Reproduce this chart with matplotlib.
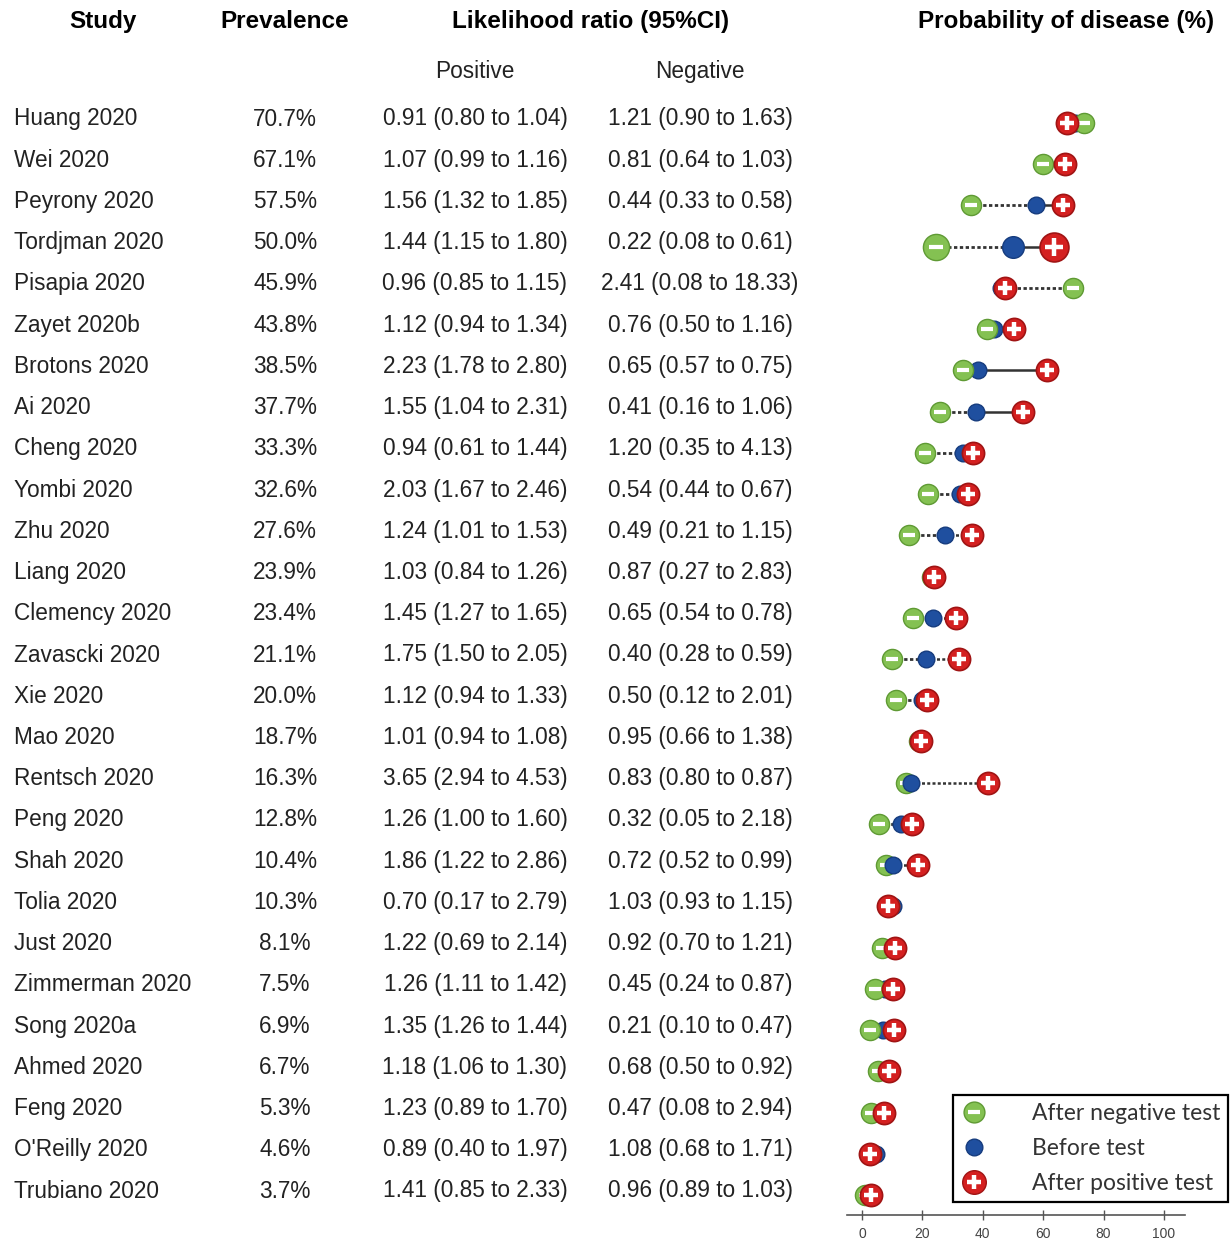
import matplotlib
matplotlib.use("Agg")
from matplotlib import pyplot as plt
from matplotlib.lines import Line2D
from matplotlib.legend_handler import HandlerTuple

plt.rcParams['font.family'] = ['Liberation Sans', 'DejaVu Sans']

studies = ["Huang 2020", "Wei 2020", "Peyrony 2020", "Tordjman 2020", "Pisapia 2020",
           "Zayet 2020b", "Brotons 2020", "Ai 2020", "Cheng 2020", "Yombi 2020",
           "Zhu 2020", "Liang 2020", "Clemency 2020", "Zavascki 2020", "Xie 2020",
           "Mao 2020", "Rentsch 2020", "Peng 2020", "Shah 2020", "Tolia 2020",
           "Just 2020", "Zimmerman 2020", "Song 2020a", "Ahmed 2020", "Feng 2020",
           "O'Reilly 2020", "Trubiano 2020"]

prevalence = [70.7, 67.1, 57.5, 50.0, 45.9, 43.8, 38.5, 37.7, 33.3, 32.6, 27.6, 23.9,
              23.4, 21.1, 20.0, 18.7, 16.3, 12.8, 10.4, 10.3, 8.1, 7.5, 6.9, 6.7, 5.3,
              4.6, 3.7]

lr_pos = ["0.91 (0.80 to 1.04)", "1.07 (0.99 to 1.16)", "1.56 (1.32 to 1.85)",
          "1.44 (1.15 to 1.80)", "0.96 (0.85 to 1.15)", "1.12 (0.94 to 1.34)",
          "2.23 (1.78 to 2.80)", "1.55 (1.04 to 2.31)", "0.94 (0.61 to 1.44)",
          "2.03 (1.67 to 2.46)", "1.24 (1.01 to 1.53)", "1.03 (0.84 to 1.26)",
          "1.45 (1.27 to 1.65)", "1.75 (1.50 to 2.05)", "1.12 (0.94 to 1.33)",
          "1.01 (0.94 to 1.08)", "3.65 (2.94 to 4.53)", "1.26 (1.00 to 1.60)",
          "1.86 (1.22 to 2.86)", "0.70 (0.17 to 2.79)", "1.22 (0.69 to 2.14)",
          "1.26 (1.11 to 1.42)", "1.35 (1.26 to 1.44)", "1.18 (1.06 to 1.30)",
          "1.23 (0.89 to 1.70)", "0.89 (0.40 to 1.97)", "1.41 (0.85 to 2.33)"]

lr_neg = ["1.21 (0.90 to 1.63)", "0.81 (0.64 to 1.03)", "0.44 (0.33 to 0.58)",
          "0.22 (0.08 to 0.61)", "2.41 (0.08 to 18.33)", "0.76 (0.50 to 1.16)",
          "0.65 (0.57 to 0.75)", "0.41 (0.16 to 1.06)", "1.20 (0.35 to 4.13)",
          "0.54 (0.44 to 0.67)", "0.49 (0.21 to 1.15)", "0.87 (0.27 to 2.83)",
          "0.65 (0.54 to 0.78)", "0.40 (0.28 to 0.59)", "0.50 (0.12 to 2.01)",
          "0.95 (0.66 to 1.38)", "0.83 (0.80 to 0.87)", "0.32 (0.05 to 2.18)",
          "0.72 (0.52 to 0.99)", "1.03 (0.93 to 1.15)", "0.92 (0.70 to 1.21)",
          "0.45 (0.24 to 0.87)", "0.21 (0.10 to 0.47)", "0.68 (0.50 to 0.92)",
          "0.47 (0.08 to 2.94)", "1.08 (0.68 to 1.71)", "0.96 (0.89 to 1.03)"]

# probability after a negative / positive test (%)
p_neg = [73.5, 60.0, 36.0, 24.5, 69.9, 41.4, 33.4, 25.8, 20.9, 21.9, 15.6, 23.0,
         16.9, 9.9, 11.3, 19.0, 14.6, 5.6, 7.9, 9.0, 6.5, 4.3, 2.6, 5.3, 3.0,
         3.0, 0.8]
p_pos = [68.0, 67.2, 66.5, 63.6, 47.5, 50.3, 61.2, 53.3, 36.8, 35.1, 36.4, 23.8,
         31.1, 32.1, 21.5, 19.5, 41.7, 16.5, 18.5, 8.6, 10.9, 10.3, 10.6, 8.9, 7.3,
         2.5, 3.0]

solid_pos = ["Peyrony 2020", "Tordjman 2020", "Brotons 2020", "Ai 2020"]
blue_on_top = ["Shah 2020", "Rentsch 2020"]

W, H = 1230, 1241
fig = plt.figure(figsize=(W / 100, H / 100), dpi=100)

def fx(x):
    return x / W

def fy(y):
    return 1 - y / H

# headers (y given as baseline in pixels)
hdr = dict(fontsize=17.5, fontweight='bold', ha='center', va='baseline', color='black')
fig.text(fx(103), fy(28), "Study", **hdr)
fig.text(fx(285), fy(28), "Prevalence", **hdr)
fig.text(fx(591), fy(28), "Likelihood ratio (95%CI)", **hdr)
fig.text(fx(1066), fy(28), "Probability of disease (%)", **hdr)
body = dict(fontsize=16.3, va='baseline', color='#222')
fig.text(fx(475), fy(78), "Positive", ha='center', **body)
fig.text(fx(700), fy(78), "Negative", ha='center', **body)

row_h = (1190 - 118) / (len(studies) - 1)
for i, s in enumerate(studies):
    y = fy(118 + i * row_h + 7.5)
    fig.text(fx(14), y, s, ha='left', **body)
    fig.text(fx(285), y, f"{prevalence[i]:.1f}%", ha='center', **body)
    fig.text(fx(475), y, lr_pos[i], ha='center', **body)
    fig.text(fx(700), y, lr_neg[i], ha='center', **body)

# dot plot
ax_l, ax_r, ax_t, ax_b = 847, 1185, 100, 1215
ax = fig.add_axes([fx(ax_l), fy(ax_b), (ax_r - ax_l) / W, (ax_b - ax_t) / H])
ax.set_xlim(-5, 107)
top = -(123 - ax_t) / row_h
bot = (len(studies) - 1) + (ax_b - 1195) / row_h
ax.set_ylim(bot, top)

green, green_e = '#84c152', '#5f9a34'
blue, blue_e = '#1f4f9f', '#163c7e'
red, red_e = '#d42020', '#a01414'
dots = (0, (1.2, 0.9))

for i, s in enumerate(studies):
    k = 1.3 if s == "Tordjman 2020" else 1.0
    ax.plot([p_neg[i], prevalence[i]], [i, i], color='#333', lw=2, ls=dots, zorder=1)
    ax.plot([prevalence[i], p_pos[i]], [i, i], color='#333', lw=1.8,
            ls='-' if s in solid_pos else dots, zorder=1)
    zb = 4.5 if s in blue_on_top else 3
    ax.plot(prevalence[i], i, 'o', ms=12 * k, color=blue, mec=blue_e, mew=1, zorder=zb)
    ax.plot(p_neg[i], i, 'o', ms=14.5 * k, color=green, mec=green_e, mew=1, zorder=4)
    ax.plot(p_neg[i], i, '_', ms=8 * k, color='white', mew=3, zorder=4.1)
    ax.plot(p_pos[i], i, 'o', ms=16 * k, color=red, mec=red_e, mew=1.2, zorder=5)
    ax.plot(p_pos[i], i, '+', ms=10 * k, color='white', mew=3.2, zorder=5.1)

for side in ['left', 'top', 'right']:
    ax.spines[side].set_visible(False)
ax.spines['bottom'].set_color('#555')
ax.spines['bottom'].set_linewidth(1.2)
ax.set_yticks([])
ax.set_xticks([0, 20, 40, 60, 80, 100])
ax.tick_params(axis='x', direction='inout', length=7, width=1, color='#555',
               labelsize=10, labelcolor='#444', pad=5)
ax.patch.set_alpha(0)

h_neg = (Line2D([], [], marker='o', ls='', ms=15, color=green, mec=green_e),
         Line2D([], [], marker='_', ls='', ms=8, color='white', mew=3))
h_bef = Line2D([], [], marker='o', ls='', ms=12, color=blue, mec=blue_e)
h_pos = (Line2D([], [], marker='o', ls='', ms=17, color=red, mec=red_e),
         Line2D([], [], marker='+', ls='', ms=10, color='white', mew=3.2))
leg = fig.legend([h_neg, h_bef, h_pos], ["After negative test", "Before test", "After positive test"],
                 handler_map={tuple: HandlerTuple(ndivide=1)},
                 loc='lower right', bbox_to_anchor=(fx(1228), fy(1202)),
                 prop={'family': 'Lato', 'size': 16.5}, labelcolor='#333',
                 frameon=True, fancybox=False, edgecolor='black', framealpha=1,
                 handlelength=1.2, handletextpad=1.9, labelspacing=0.6,
                 borderpad=0.35, borderaxespad=0)
leg.get_frame().set_linewidth(1.6)

plt.savefig('out.png', dpi=100)
